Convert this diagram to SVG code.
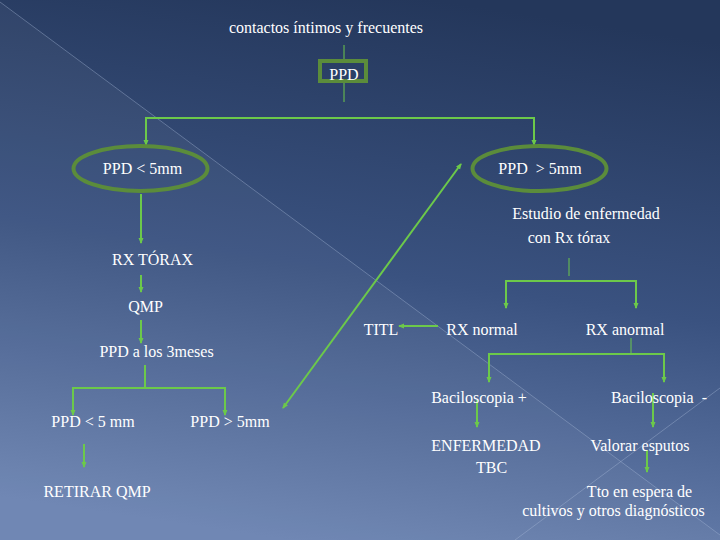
<svg xmlns="http://www.w3.org/2000/svg" width="720" height="540" viewBox="0 0 720 540">
<defs>
<linearGradient id="bg" x1="0.6" y1="0" x2="0.4" y2="1">
<stop offset="0" stop-color="#24375b"/>
<stop offset="0.5" stop-color="#3a5280"/>
<stop offset="1" stop-color="#6b83b1"/>
</linearGradient>
<marker id="ah" viewBox="0 0 6 6" refX="5" refY="3" markerWidth="6" markerHeight="6" markerUnits="userSpaceOnUse" orient="auto-start-reverse">
<path d="M0,0.5 L6,3 L0,5.5 z" fill="#6cc94a"/>
</marker>
<style>
text{font-family:"Liberation Serif","Times New Roman","DejaVu Serif",serif;font-size:16px;fill:#ffffff;text-anchor:middle;white-space:pre}
.c{fill:none;stroke:#6cc94a;stroke-width:2}
.ca{fill:none;stroke:#6cc94a;stroke-width:2;marker-end:url(#ah)}
.cb{fill:none;stroke:#6cc94a;stroke-width:2;marker-start:url(#ah);marker-end:url(#ah)}
.t{fill:none;stroke:#6cc94a;stroke-width:1}
.sh{fill:none;stroke:#5b8c3b;stroke-width:4}
</style>
</defs>
<rect width="720" height="540" fill="url(#bg)"/>
<polygon points="0,2 720,535 720,540 0,540" fill="#ffffff" fill-opacity="0.04"/>
<line x1="0" y1="2" x2="720" y2="535" stroke="#a8b8d8" stroke-opacity="0.4" stroke-width="1"/>
<line x1="515" y1="540" x2="720" y2="388" stroke="#a8b8d8" stroke-opacity="0.4" stroke-width="1"/>

<g id="connectors">
<path class="t" d="M344,45 V60"/>
<path class="t" d="M344,82 V102"/>
<path class="cb" d="M146,145 V118 H534 V145"/>
<path class="ca" d="M141,194 V243"/>
<path class="ca" d="M141,275 V292"/>
<path class="ca" d="M141,320 V343"/>
<path class="c" d="M145,365 V388"/>
<path class="cb" d="M73,415 V388 H225 V415"/>
<path class="ca" d="M84,444 V467"/>
<path class="cb" d="M283,408 L461,164"/>
<path class="t" d="M569,258 V276"/>
<path class="cb" d="M506,308 V281 H636 V308"/>
<path class="ca" d="M438,326 H399"/>
<path class="t" d="M631,338 V354"/>
<path class="cb" d="M489,382 V354 H664 V382"/>
<path class="ca" d="M477,400 V427"/>
<path class="ca" d="M653,393 V427"/>
<path class="ca" d="M647,450 V472"/>
</g>

<g font-family="'Liberation Serif', 'Times New Roman', 'DejaVu Serif', serif" font-size="16" fill="#ffffff" text-anchor="middle">
<g id="contactos"><text x="326" y="33">contactos íntimos y frecuentes</text></g>
<g id="ppd"><rect class="sh" x="320" y="61" width="46" height="20" stroke-width="3"/><text x="344" y="80">PPD</text></g>
<g id="ppd-menor"><ellipse class="sh" cx="140.5" cy="168.5" rx="67" ry="22.5"/><text x="142.5" y="174">PPD &lt; 5mm</text></g>
<g id="ppd-mayor"><ellipse class="sh" cx="539.5" cy="168.5" rx="67" ry="22.5"/><text x="540" y="174">PPD  &gt; 5mm</text></g>
<g id="estudio"><text x="586" y="219">Estudio de enfermedad</text><text x="569" y="243">con Rx tórax</text></g>
<g id="rx-torax"><text x="152.5" y="265">RX TÓRAX</text></g>
<g id="qmp"><text x="145.5" y="312">QMP</text></g>
<g id="titl"><text x="381" y="335">TITL</text></g>
<g id="rx-normal"><text x="482" y="335">RX normal</text></g>
<g id="rx-anormal"><text x="625" y="335">RX anormal</text></g>
<g id="ppd-3meses"><text x="156.5" y="357">PPD a los 3meses</text></g>
<g id="bac-pos"><text x="479" y="403">Baciloscopia +</text></g>
<g id="bac-neg"><text x="659" y="403">Baciloscopia  -</text></g>
<g id="ppd-menor-2"><text x="93" y="427">PPD &lt; 5 mm</text></g>
<g id="ppd-mayor-2"><text x="230" y="427">PPD &gt; 5mm</text></g>
<g id="enfermedad"><text x="486" y="451">ENFERMEDAD</text><text x="491.5" y="473">TBC</text></g>
<g id="valorar"><text x="640" y="451">Valorar esputos</text></g>
<g id="retirar"><text x="97" y="497">RETIRAR QMP</text></g>
<g id="tto"><text x="639.5" y="497">Tto en espera de</text><text x="613.5" y="516">cultivos y otros diagnósticos</text></g>
</g>
</svg>
